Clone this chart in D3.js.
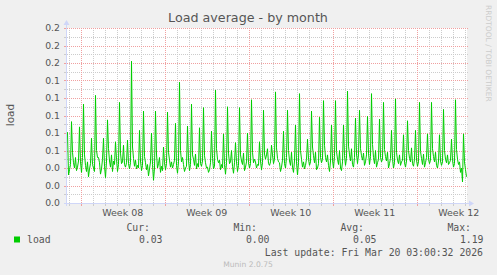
<!DOCTYPE html>
<html>
<head>
<meta charset="utf-8">
<script src="https://cdn.jsdelivr.net/npm/d3@7/dist/d3.min.js"></script>
<style>
  body { margin: 0; background: #f0f0f0; }
  svg text { font-family: "DejaVu Sans", sans-serif; fill: #555; }
  svg text.mono { font-family: "DejaVu Sans Mono", monospace; }
</style>
</head>
<body>
<svg id="chart" width="497" height="275"></svg>
<script>
// Munin style "Load average - by month"

// 2 hour averages, first one at Feb 14 21:30 UTC
var startTime = new Date(Date.UTC(2026, 1, 14, 20, 30))
  , endTime = new Date(Date.UTC(2026, 2, 20, 4, 30))
  , stepHours = 2
  ;

var loadValues = [
  0.081, 0.032, 0.038, 0.044, 0.093, 0.058, 0.046, 0.040, 0.052, 0.037, 0.041, 0.048,
  0.087, 0.047, 0.035, 0.052, 0.113, 0.055, 0.043, 0.036, 0.047, 0.030, 0.039, 0.045,
  0.074, 0.044, 0.040, 0.036, 0.123, 0.060, 0.052, 0.052, 0.046, 0.033, 0.039, 0.050,
  0.074, 0.042, 0.029, 0.048, 0.095, 0.062, 0.048, 0.041, 0.055, 0.036, 0.048, 0.044,
  0.070, 0.050, 0.036, 0.044, 0.115, 0.057, 0.045, 0.047, 0.066, 0.044, 0.041, 0.046,
  0.072, 0.045, 0.039, 0.046, 0.162, 0.064, 0.051, 0.042, 0.049, 0.039, 0.043, 0.040,
  0.083, 0.048, 0.037, 0.043, 0.105, 0.053, 0.046, 0.038, 0.044, 0.031, 0.039, 0.047,
  0.080, 0.044, 0.026, 0.040, 0.105, 0.056, 0.040, 0.045, 0.052, 0.035, 0.042, 0.037,
  0.064, 0.046, 0.038, 0.045, 0.104, 0.058, 0.049, 0.041, 0.047, 0.040, 0.044, 0.049,
  0.091, 0.043, 0.034, 0.047, 0.138, 0.060, 0.047, 0.052, 0.044, 0.036, 0.040, 0.042,
  0.088, 0.049, 0.037, 0.044, 0.113, 0.055, 0.050, 0.043, 0.056, 0.039, 0.045, 0.041,
  0.086, 0.045, 0.042, 0.048, 0.109, 0.054, 0.046, 0.040, 0.041, 0.035, 0.038, 0.046,
  0.082, 0.051, 0.039, 0.042, 0.129, 0.062, 0.050, 0.046, 0.049, 0.038, 0.044, 0.040,
  0.079, 0.044, 0.033, 0.046, 0.110, 0.057, 0.045, 0.047, 0.060, 0.042, 0.034, 0.046,
  0.069, 0.047, 0.036, 0.043, 0.109, 0.055, 0.048, 0.044, 0.057, 0.037, 0.041, 0.047,
  0.080, 0.046, 0.040, 0.045, 0.118, 0.058, 0.046, 0.050, 0.047, 0.040, 0.044, 0.043,
  0.070, 0.048, 0.038, 0.046, 0.106, 0.056, 0.050, 0.055, 0.062, 0.045, 0.043, 0.047,
  0.066, 0.055, 0.045, 0.050, 0.127, 0.063, 0.051, 0.047, 0.046, 0.036, 0.041, 0.049,
  0.082, 0.045, 0.040, 0.052, 0.106, 0.060, 0.048, 0.043, 0.058, 0.041, 0.035, 0.048,
  0.089, 0.047, 0.032, 0.046, 0.125, 0.060, 0.050, 0.041, 0.047, 0.039, 0.043, 0.050,
  0.073, 0.050, 0.043, 0.047, 0.105, 0.064, 0.054, 0.046, 0.058, 0.038, 0.040, 0.045,
  0.098, 0.052, 0.046, 0.050, 0.117, 0.066, 0.052, 0.047, 0.055, 0.043, 0.036, 0.048,
  0.089, 0.049, 0.040, 0.053, 0.117, 0.059, 0.050, 0.044, 0.060, 0.040, 0.037, 0.047,
  0.089, 0.054, 0.043, 0.051, 0.128, 0.065, 0.055, 0.048, 0.062, 0.044, 0.041, 0.052,
  0.097, 0.056, 0.045, 0.055, 0.106, 0.062, 0.054, 0.049, 0.057, 0.043, 0.047, 0.055,
  0.099, 0.057, 0.044, 0.053, 0.125, 0.067, 0.052, 0.045, 0.060, 0.041, 0.046, 0.050,
  0.096, 0.052, 0.047, 0.050, 0.115, 0.061, 0.053, 0.048, 0.058, 0.040, 0.045, 0.051,
  0.083, 0.050, 0.040, 0.046, 0.119, 0.058, 0.049, 0.045, 0.055, 0.043, 0.047, 0.049,
  0.078, 0.046, 0.041, 0.048, 0.094, 0.060, 0.051, 0.047, 0.063, 0.045, 0.042, 0.050,
  0.083, 0.049, 0.042, 0.047, 0.115, 0.059, 0.051, 0.044, 0.056, 0.041, 0.046, 0.052,
  0.079, 0.050, 0.045, 0.049, 0.115, 0.062, 0.053, 0.047, 0.058, 0.043, 0.040, 0.048,
  0.078, 0.048, 0.043, 0.047, 0.107, 0.060, 0.050, 0.046, 0.055, 0.044, 0.046, 0.049,
  0.073, 0.049, 0.041, 0.045, 0.118, 0.061, 0.050, 0.044, 0.047, 0.035, 0.040, 0.024,
  0.079, 0.047, 0.038, 0.030
];

var yTicks = [0, 0.02, 0.04, 0.06, 0.08, 0.10, 0.12, 0.14, 0.16, 0.18, 0.20]
  , yTickLabels = ["0.0", "0.0", "0.0", "0.1", "0.1", "0.1", "0.1", "0.1", "0.2", "0.2", "0.2"]
  , legendHeaders = ["Cur:", "Min:", "Avg:", "Max:"]
  , legendValues = ["0.03", "0.00", "0.05", "1.19"]
  , seriesName = "load"
  , lastUpdate = "Last update: Fri Mar 20 03:00:32 2026"
  ;

var plotLeft = 67, plotRight = 467, plotTop = 28, plotBottom = 203
  , lineColor = "#00cc00"
  , axisColor = "#cfd6f8"
  , majorColor = "#f0a0a0"
  , minorColor = "#cccccc"
  ;

var svg = d3.select("#chart");

var x = d3.scaleTime().domain([startTime, endTime]).range([plotLeft, plotRight]);
var y = d3.scaleLinear().domain([0, 0.2]).range([plotBottom, plotTop]);

var data = loadValues.map(function (v, i) {
  return { t: d3.utcMinute.offset(startTime, 60 + i * stepHours * 60), v: v };
});

// Canvas
svg.append("rect")
   .attr("x", plotLeft).attr("y", plotTop)
   .attr("width", plotRight - plotLeft).attr("height", plotBottom - plotTop)
   .attr("fill", "#ffffff");

// Grid: minor first, then major
var minorY = y.ticks(20).filter(function (d) { return Math.round(d * 100) % 2 === 1; })
  , days = d3.utcDay.range(startTime, endTime)
  , mondays = d3.utcMonday.range(startTime, endTime)
  ;

var grid = svg.append("g").attr("shape-rendering", "crispEdges");

grid.selectAll(".minor-h").data(minorY).enter().append("line")
    .attr("x1", plotLeft).attr("x2", plotRight + 1)
    .attr("y1", function (d) { return Math.round(y(d)) + 0.5; })
    .attr("y2", function (d) { return Math.round(y(d)) + 0.5; })
    .attr("stroke", minorColor).attr("stroke-dasharray", "1,1");

grid.selectAll(".minor-v").data(days).enter().append("line")
    .attr("x1", function (d) { return Math.round(x(d)) + 0.5; })
    .attr("x2", function (d) { return Math.round(x(d)) + 0.5; })
    .attr("y1", plotTop).attr("y2", plotBottom)
    .attr("stroke", minorColor).attr("stroke-dasharray", "1,1");

grid.selectAll(".major-h").data(yTicks.slice(1)).enter().append("line")
    .attr("x1", plotLeft).attr("x2", plotRight + 1)
    .attr("y1", function (d) { return Math.round(y(d)) + 0.5; })
    .attr("y2", function (d) { return Math.round(y(d)) + 0.5; })
    .attr("stroke", majorColor).attr("stroke-dasharray", "1,1");

grid.selectAll(".major-v").data(mondays).enter().append("line")
    .attr("x1", function (d) { return Math.round(x(d)) + 0.5; })
    .attr("x2", function (d) { return Math.round(x(d)) + 0.5; })
    .attr("y1", plotTop).attr("y2", plotBottom)
    .attr("stroke", majorColor).attr("stroke-dasharray", "1,1");

// Small ticks on the axes
grid.selectAll(".tick-y").data(y.ticks(20)).enter().append("line")
    .attr("x1", plotLeft - 3).attr("x2", plotLeft)
    .attr("y1", function (d) { return Math.round(y(d)) + 0.5; })
    .attr("y2", function (d) { return Math.round(y(d)) + 0.5; })
    .attr("stroke", function (d) { return Math.round(d * 100) % 2 === 0 ? majorColor : minorColor; });

grid.selectAll(".tick-x").data(days).enter().append("line")
    .attr("x1", function (d) { return Math.round(x(d)) + 0.5; })
    .attr("x2", function (d) { return Math.round(x(d)) + 0.5; })
    .attr("y1", plotBottom + 1).attr("y2", plotBottom + 3)
    .attr("stroke", function (d) { return d.getUTCDay() === 1 ? majorColor : minorColor; });

// The load line
svg.append("clipPath").attr("id", "plot-clip")
   .append("rect")
   .attr("x", plotLeft).attr("y", plotTop)
   .attr("width", plotRight - plotLeft).attr("height", plotBottom - plotTop);

svg.append("path")
   .datum(data)
   .attr("clip-path", "url(#plot-clip)")
   .attr("fill", "none")
   .attr("stroke", lineColor)
   .attr("stroke-width", 1)
   .attr("d", d3.line()
                .x(function (d) { return x(d.t); })
                .y(function (d) { return y(d.v); }));

// Axes with arrows
var axes = svg.append("g").attr("shape-rendering", "crispEdges");
axes.append("line")
    .attr("x1", plotLeft - 0.5).attr("x2", plotLeft - 0.5)
    .attr("y1", plotBottom + 3).attr("y2", plotTop - 4)
    .attr("stroke", axisColor);
axes.append("line")
    .attr("x1", plotLeft - 3).attr("x2", plotRight + 3)
    .attr("y1", plotBottom + 0.5).attr("y2", plotBottom + 0.5)
    .attr("stroke", axisColor);
svg.append("path")
   .attr("d", "M" + (plotLeft - 3.5) + "," + (plotTop - 3) + "L" + (plotLeft - 0.5) + "," + (plotTop - 8) +
              "L" + (plotLeft + 2.5) + "," + (plotTop - 3) + "Z")
   .attr("fill", axisColor);
svg.append("path")
   .attr("d", "M" + (plotRight + 2) + "," + (plotBottom - 2.5) + "L" + (plotRight + 7) + "," + (plotBottom + 0.5) +
              "L" + (plotRight + 2) + "," + (plotBottom + 3.5) + "Z")
   .attr("fill", axisColor);

// Tick labels
svg.selectAll(".ylabel").data(yTicks).enter().append("text")
   .attr("x", 60)
   .attr("y", function (d) { return y(d); })
   .attr("dy", "0.35em")
   .attr("text-anchor", "end")
   .attr("font-size", 9.3)
   .text(function (d, i) { return yTickLabels[i]; });

var weekFormat = d3.utcFormat("Week %V");
svg.selectAll(".xlabel").data(mondays).enter().append("text")
   .attr("x", function (d) { return x(d3.utcHour.offset(d, 84)); })
   .attr("y", 216)
   .attr("text-anchor", "middle")
   .attr("font-size", 9.5)
   .text(function (d) { return weekFormat(d); });

// Title and side texts
svg.append("text")
   .attr("x", 248).attr("y", 22)
   .attr("text-anchor", "middle")
   .attr("font-size", 12.7)
   .text("Load average - by month");

svg.append("text")
   .attr("transform", "translate(14,115) rotate(-90)")
   .attr("text-anchor", "middle")
   .attr("font-size", 10.5)
   .text("load");

svg.append("text")
   .attr("transform", "translate(486,5) rotate(90)")
   .attr("font-size", 7.5)
   .style("fill", "#cccccc")
   .text("RRDTOOL / TOBI OETIKER");

// Legend
svg.append("rect")
   .attr("x", 14).attr("y", 236.5).attr("width", 6).attr("height", 6)
   .attr("fill", lineColor);
svg.append("text").attr("class", "mono")
   .attr("x", 27).attr("y", 243).attr("font-size", 9.8)
   .text(seriesName);

legendHeaders.forEach(function (h, i) {
  svg.append("text").attr("class", "mono")
     .attr("x", 150 + i * 107).attr("y", 231)
     .attr("text-anchor", "end").attr("font-size", 9.8)
     .text(h);
  svg.append("text").attr("class", "mono")
     .attr("x", 162.5 + i * 107).attr("y", 243)
     .attr("text-anchor", "end").attr("font-size", 9.8)
     .text(legendValues[i]);
});

svg.append("text").attr("class", "mono")
   .attr("x", 483).attr("y", 255.5)
   .attr("text-anchor", "end").attr("font-size", 9.8)
   .text(lastUpdate);

svg.append("text")
   .attr("x", 248).attr("y", 267)
   .attr("text-anchor", "middle").attr("font-size", 7.6)
   .style("fill", "#bbbbbb")
   .text("Munin 2.0.75");
</script>
</body>
</html>
